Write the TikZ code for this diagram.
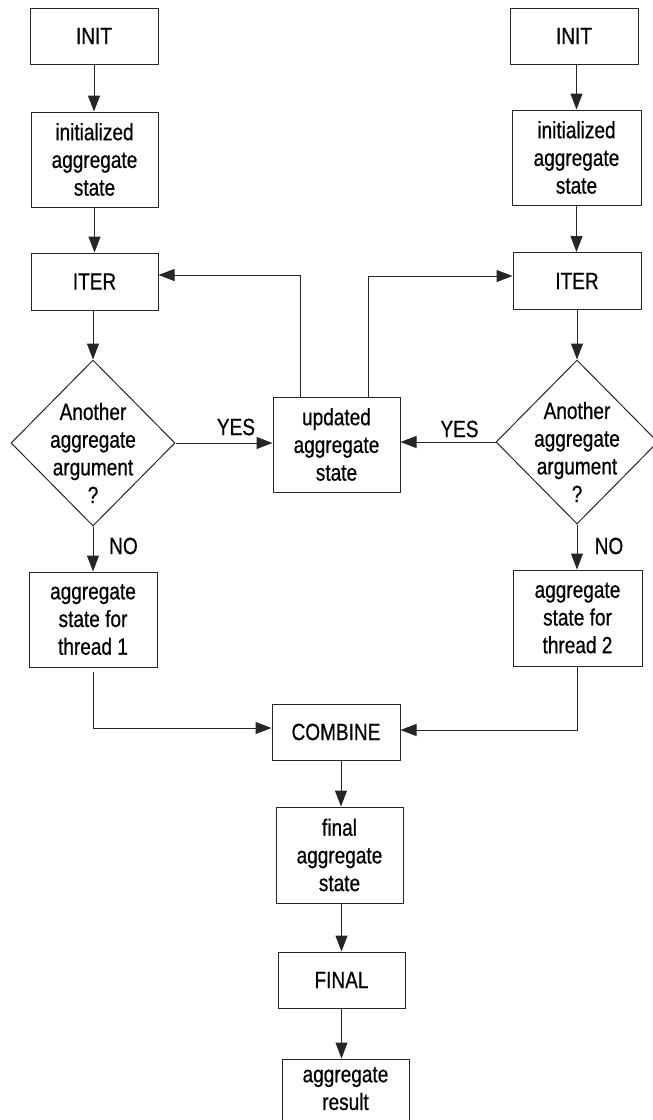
\documentclass[tikz,border=0pt]{standalone}
\usepackage{fontspec}
\setmainfont[FakeStretch=0.81,FakeBold=0.6]{Liberation Sans}
\usetikzlibrary{arrows.meta,shapes.geometric}
\newcommand\fsz{\fontsize{23.5}{27.7}\selectfont}
\begin{document}
\begin{tikzpicture}[x=1pt,y=-1pt,
  box/.style={draw=black!85, line width=1pt, inner sep=0pt, align=center, font=\fsz},
  dia/.style={draw=black!85, line width=1pt, diamond, inner sep=0pt},
  arr/.style={draw=black!85, line width=1pt, -{Triangle[length=16pt,width=12pt]}},
  lbl/.style={font=\fsz, inner sep=0pt, align=center}]
\useasboundingbox (0,0) rectangle (653,1120);
\clip (0,0) rectangle (653,1120);
% left column
\node[box, minimum width=128pt, minimum height=56pt] (initL) at (94,36) {INIT};
\node[box, minimum width=127pt, minimum height=95pt] (stateL) at (94.5,159.5) {initialized\\aggregate\\state};
\node[box, minimum width=127pt, minimum height=57pt] (iterL) at (94.5,281.5) {ITER};
\node[dia, minimum width=164pt, minimum height=166pt] (decL) at (93,443) {};
\node[lbl] (decLt) at (93,453) {Another\\aggregate\\argument\\?};
\node[box, minimum width=128pt, minimum height=95pt] (t1) at (93,619.5) {aggregate\\state for\\thread 1};
% middle
\node[box, minimum width=127pt, minimum height=95pt] (upd) at (336.5,444.5) {updated\\aggregate\\state};
% right column
\node[box, minimum width=128pt, minimum height=56pt] (initR) at (574,36) {INIT};
\node[box, minimum width=129pt, minimum height=95pt] (stateR) at (576.5,157.5) {initialized\\aggregate\\state};
\node[box, minimum width=128pt, minimum height=57pt] (iterR) at (577,281) {ITER};
\node[dia, minimum width=162pt, minimum height=164pt] (decR) at (577,442) {};
\node[lbl] (decRt) at (577,452) {Another\\aggregate\\argument\\?};
\node[box, minimum width=129pt, minimum height=96pt] (t2) at (577.5,618) {aggregate\\state for\\thread 2};
% bottom
\node[box, minimum width=128pt, minimum height=56pt] (comb) at (336,732) {COMBINE};
\node[box, minimum width=127pt, minimum height=96pt] (fstate) at (339.5,855) {final\\aggregate\\state};
\node[box, minimum width=127pt, minimum height=56pt] (final) at (341.5,980) {FINAL};
\node[box, minimum width=127pt, minimum height=95pt] (result) at (345.5,1106.5) {aggregate\\result\\\strut};
% labels
\node[lbl] (noL) at (123.5,546) {NO};
\node[lbl] (yesL) at (236,427) {YES};
\node[lbl] (yesR) at (459.5,429) {YES};
\node[lbl] (noR) at (609,546) {NO};
% connectors left
\draw[arr] (initL.south) -- (initL.south |- stateL.north);
\draw[arr] (stateL.south) -- (stateL.south |- iterL.north);
\draw[arr] (decL.north |- iterL.south) -- (decL.north);
\draw[arr] (decL.south) -- (t1.north);
\draw[arr] (decL.east) -- (decL.east -| upd.west);
\draw[arr] ([xshift=-36.5pt]upd.north) |- ([yshift=6.5pt]iterL.east);
% connectors right
\draw[arr] (initR.south -| stateR.north) -- (stateR.north);
\draw[arr] (stateR.south) -- (stateR.south |- iterR.north);
\draw[arr] (iterR.south) -- (iterR.south |- decR.north);
\draw[arr] (decR.south) -- (decR.south |- t2.north);
\draw[arr] (decR.west) -- (decR.west -| upd.east);
\draw[arr] ([xshift=31.5pt]upd.north) |- ([yshift=5pt]iterR.west);
% to combine and below
\draw[arr] ([yshift=-4pt]t1.south) |- ([yshift=4pt]comb.west);
\draw[arr] (t2.south) |- ([yshift=2pt]comb.east);
\draw[arr] ([xshift=5pt]comb.south) -- ([xshift=5pt]comb.south |- fstate.north);
\draw[arr] ([xshift=2pt]fstate.south) -- ([xshift=2pt]fstate.south |- final.north);
\draw[arr] (final.south) -- (final.south |- result.north);
\end{tikzpicture}
\end{document}
